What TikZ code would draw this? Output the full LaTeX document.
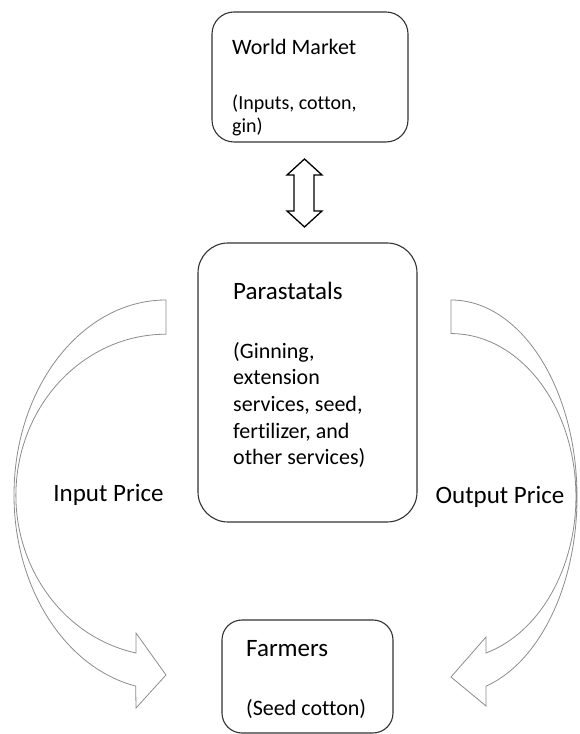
\documentclass[tikz,border=0pt]{standalone}
\usepackage{fontspec}
\setmainfont{Carlito}[Ligatures=NoCommon]

\begin{document}
\begin{tikzpicture}[x=1pt, y=1pt,
      block/.style={rectangle, rounded corners=#1, draw=black!80, line width=1.1pt},
      title/.style={anchor=base west, inner sep=0pt, font=\fontsize{25}{30}\selectfont},
      detail/.style={anchor=base west, inner sep=0pt, align=left, font=\fontsize{22}{26.7}\selectfont},
      bigarrow/.style={draw=black!45, line width=0.8pt, fill=white}]
      \useasboundingbox (0, 0) rectangle (579, 734);
      \node[block=22pt, minimum width=196pt, minimum height=130pt](market) at (310, 657){};
      \node[block=30pt, minimum width=219pt, minimum height=279pt](para) at (307.5, 351.5){};
      \node[block=20pt, minimum width=171pt, minimum height=113pt](farmers) at (307.5, 57.5){};
      % base of a multi-line node is its last line
      \node[title, font=\fontsize{22}{26}\selectfont](markettitle) at (232, 679){World Market};
      \node[detail, font=\fontsize{20}{23}\selectfont](marketsub) at (232, 601){(Inputs, cotton,\\gin)};
      \node[title](paratitle) at (233, 434){Parastatals};
      \node[detail](parasub) at (233, 269){(Ginning,\\extension\\services, seed,\\fertilizer, and\\other services)};
      \node[title](farmerstitle) at (246, 77){Farmers};
      \node[detail](farmerssub) at (246, 18){(Seed cotton)};
      \node[font=\fontsize{25}{30}\selectfont](inprice) at (108.5, 239){Input Price};
      \node[font=\fontsize{25}{30}\selectfont](outprice) at (500, 237){Output Price};
      % two-way arrow between world market and parastatals
      \draw[line width=1.3pt, fill=white] (304.5, 575) -- (322, 559) -- (314, 559) -- (314, 523)
        -- (322, 523) -- (304.5, 507) -- (287, 523) -- (294, 523) -- (294, 559) -- (287, 559) -- cycle;
      % curved block arrows down to the farmers
      \draw[bigarrow] (166, 434) arc[start angle=90, end angle=258.5, x radius=152, y radius=195]
        -- (136, 26) -- (166, 59) -- (136, 101) -- (136, 81)
        arc[start angle=258.5, end angle=90, x radius=150, y radius=161] -- cycle;
      \draw[bigarrow] (451, 434) arc[start angle=90, end angle=-73.9, x radius=126, y radius=197]
        -- (486, 28) -- (451, 57) -- (486, 97) -- (486, 81)
        arc[start angle=-73.7, end angle=90, x radius=125, y radius=163] -- cycle;
    \end{tikzpicture}
\end{document}
